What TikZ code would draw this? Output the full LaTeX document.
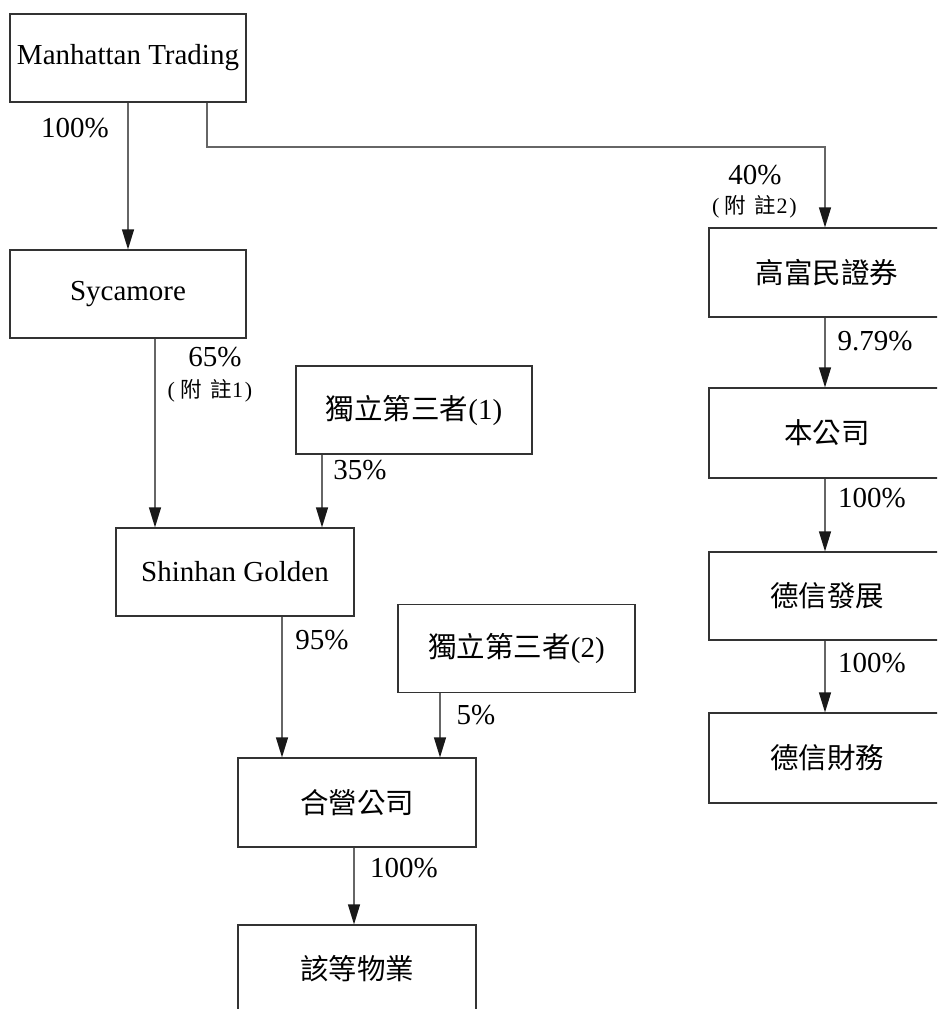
\documentclass[tikz,border=0pt]{standalone}
\usepackage{fontspec}
\setmainfont{Liberation Serif}
\newfontfamily\cjk{Noto Sans CJK TC}
\newcommand{\cjkbig}{\cjk\fontsize{28.5}{30}\selectfont}
\newcommand{\notetext}[1]{{\fontsize{22}{24}\selectfont(}\hspace{5pt}{\cjk\fontsize{21.5}{24}\selectfont 附\hspace{9pt}註}{\fontsize{22}{24}\selectfont #1\hspace{2pt})}}
\usetikzlibrary{arrows.meta}
\tikzset{
  box/.style={draw=black!80, line width=1.2pt, minimum width=236pt, minimum height=88pt, inner sep=0pt, font=\fontsize{29}{31}\selectfont},
  arr/.style={draw=black!60, line width=1.2pt, -{Triangle[length=20pt,width=12pt,fill=black!90,color=black!90]}},
  pct/.style={inner sep=0pt, font=\fontsize{29}{31}\selectfont},
  note/.style={inner sep=0pt}
}
\begin{document}
\begin{tikzpicture}[x=1pt,y=-1pt]
\useasboundingbox (0,0) rectangle (937,1009);
\clip (0,0) rectangle (937,1009);
\node[box] (mt) at (128,58) {Manhattan Trading};
\node[box] (syc) at (128,294) {Sycamore};
\node[box] (ind1) at (414,410) {{\cjkbig 獨立第三者}(1)};
\node[box, minimum width=238pt] (shg) at (235,572) {Shinhan Golden};
\node[box, minimum width=237pt] (ind2) at (516.5,648.5) {{\cjkbig 獨立第三者}(2)};
\node[box, minimum width=238pt, minimum height=89pt] (jv) at (357,802.5) {\cjkbig 合營公司};
\node[box, minimum width=238pt] (prop) at (357,969) {\cjkbig 該等物業};
\node[box, minimum height=89pt] (gfm) at (827,272.5) {\cjkbig 高富民證券};
\node[box, minimum height=90pt] (co) at (827,433) {\cjkbig 本公司};
\node[box] (dev) at (827,596) {\cjkbig 德信發展};
\node[box, minimum height=90pt] (fin) at (827,758) {\cjkbig 德信財務};
\coordinate (bend) at (207,147);
\draw[arr] (mt.south) -- (syc.north);
\draw[arr] (mt.south -| bend) -- (bend) -| ([xshift=-2pt]gfm.north);
\draw[arr] ([xshift=27pt]syc.south) -- ([xshift=27pt]syc.south |- shg.north);
\draw[arr] ([xshift=-92pt]ind1.south) -- ([xshift=-92pt]ind1.south |- shg.north);
\draw[arr] ([xshift=47pt]shg.south) -- ([xshift=47pt]shg.south |- jv.north);
\draw[arr] ([xshift=-76.5pt]ind2.south) -- ([xshift=-76.5pt]ind2.south |- jv.north);
\draw[arr] ([xshift=-3pt]jv.south) -- ([xshift=-3pt]jv.south |- prop.north);
\draw[arr] ([xshift=-2pt]gfm.south) -- ([xshift=-2pt]gfm.south |- co.north);
\draw[arr] ([xshift=-2pt]co.south) -- ([xshift=-2pt]co.south |- dev.north);
\draw[arr] ([xshift=-2pt]dev.south) -- ([xshift=-2pt]dev.south |- fin.north);
\node[pct] (l1) at (75,128) {100\%};
\node[pct] (l2) at (755,175) {40\%};
\node[note] (n2) at (754.5,207) {\notetext{2}};
\node[pct] (l3) at (875,341) {9.79\%};
\node[pct] (l4) at (215,357) {65\%};
\node[note] (n1) at (210,391) {\notetext{1}};
\node[pct] (l5) at (360,470) {35\%};
\node[pct] (l6) at (322,640) {95\%};
\node[pct] (l7) at (476,715) {5\%};
\node[pct] (l8) at (404,868) {100\%};
\node[pct] (l9) at (872,498) {100\%};
\node[pct] (l10) at (872,663) {100\%};
\end{tikzpicture}
\end{document}
